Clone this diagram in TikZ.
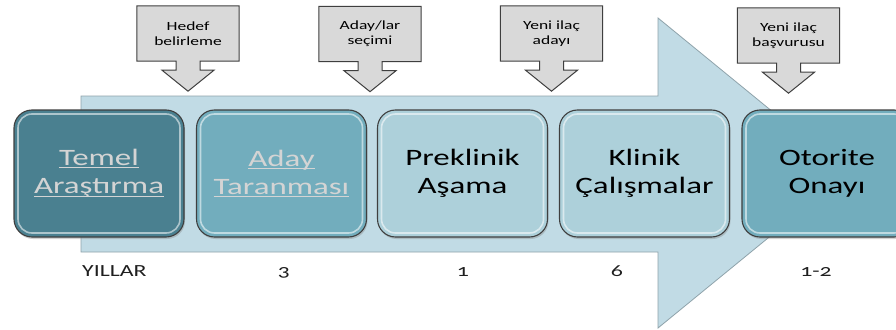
\documentclass[tikz,border=0pt]{standalone}
\usepackage{fontspec}
\setmainfont{Carlito}
\newfontfamily\bxf[FakeStretch=1.4,Numbers=OldStyle]{Carlito}
\usetikzlibrary{shadows,backgrounds}
\definecolor{arrowfill}{HTML}{C1DBE5}
\definecolor{arrowline}{HTML}{8FA3AB}
\definecolor{darkteal}{HTML}{4A8090}
\definecolor{midteal}{HTML}{72ADBD}
\definecolor{lightteal}{HTML}{ADD0DA}
\definecolor{callgray}{HTML}{D9D9D9}
\definecolor{edgegray}{HTML}{3F3F3F}
\definecolor{lighttext}{HTML}{D4D4D4}
\newcommand\myul[1]{\leavevmode\setbox0\hbox{#1}\rlap{\rule[-2.5pt]{\wd0}{0.8pt}}\box0}
\tikzset{
  stagebox/.style={draw=edgegray, line width=1.1pt, rounded corners=18pt,
    minimum width=170pt, minimum height=127pt, inner sep=0pt, align=center,
    font=\bxf\fontsize{23.5}{28.5}\selectfont,
    drop shadow={opacity=0.35, shadow xshift=1pt, shadow yshift=-2pt},
    path picture={\draw[white, opacity=0.55, line width=1.6pt, rounded corners=14pt]
      ([shift={(4pt,-4pt)}]path picture bounding box.north west) rectangle
      ([shift={(-4pt,4pt)}]path picture bounding box.south east);}},
  callbox/.style={minimum width=102pt, minimum height=55pt, inner sep=0pt,
    align=center, font=\bxf\fontsize{12.5}{15}\selectfont},
  callshape/.style={fill=callgray, draw=edgegray, line width=1pt, line join=miter},
  yearlabel/.style={font=\bxf\fontsize{17}{20}\selectfont, text=black!88, inner sep=0pt}
}
\begin{document}
\begin{tikzpicture}[x=1pt,y=-1pt]
\useasboundingbox (0,0) rectangle (896,329);
% callouts (text nodes)
\node[callbox] (c1) at (188,33.5) {Hedef\\belirleme};
\node[callbox] (c2) at (370,34) {Aday/lar\\seçimi};
\node[callbox] (c3) at (551.5,33.5) {Yeni ilaç\\adayı};
\node[callbox] (c4) at (788.5,35.5) {Yeni ilaç\\başvurusu};
\begin{pgfonlayer}{background}
\fill[white] (0,0) rectangle (896,329);
% big background arrow
\draw[fill=arrowfill, draw=arrowline, line width=0.8pt]
  (81,96) -- (658,96) -- (658,18) -- (847.5,173) -- (658,328) -- (658,252) -- (81,252) -- cycle;
\foreach \c in {c1,c2,c3,c4}{
  \draw[callshape] (\c.north west) -- (\c.north east) -- (\c.south east)
    -- ([xshift=12pt]\c.south) -- ++(0,9) -- ++(14,0)
    -- ([yshift=-30pt]\c.south) -- ([shift={(-26pt,-9pt)}]\c.south)
    -- ++(14,0) -- ++(0,-9) -- (\c.south west) -- cycle;
}
\end{pgfonlayer}
% stage boxes
\node[stagebox, fill=darkteal, text=lighttext] (s1) at (99,173.5) {\myul{Temel}\\\myul{Araştırma}};
\node[stagebox, fill=midteal, text=lighttext] (s2) at (281.5,173.5) {\myul{Aday}\\\myul{Taranması}};
\node[stagebox, fill=lightteal, text=black] (s3) at (462.5,173.5) {Preklinik\\Aşama};
\node[stagebox, fill=lightteal, text=black] (s4) at (644.5,173.5) {Klinik\\Çalışmalar};
\node[stagebox, fill=midteal, text=black] (s5) at (827,173.5) {Otorite\\Onayı};
% year labels
\node[yearlabel, anchor=base west] (yl) at (82,276) {YILLAR};
\node[yearlabel, anchor=base] (y1) at (284,276) {3};
\node[yearlabel, anchor=base] (y2) at (463,276) {1};
\node[yearlabel, anchor=base] (y3) at (617,276) {6};
\node[yearlabel, anchor=base] (y4) at (816,276) {1-2};
\end{tikzpicture}
\end{document}
